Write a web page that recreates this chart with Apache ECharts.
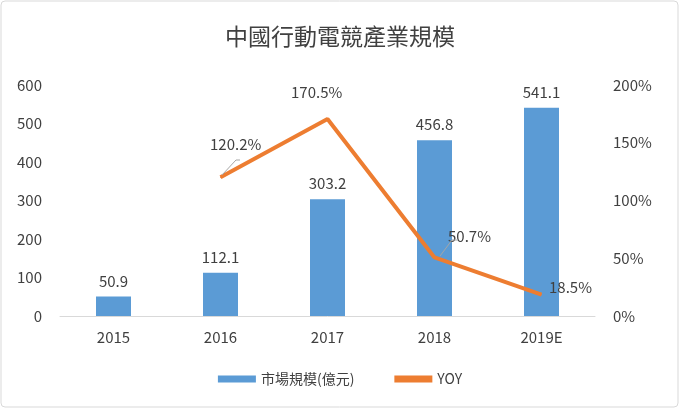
<!DOCTYPE html>
<html><head><meta charset="utf-8">
<script src="https://cdn.jsdelivr.net/npm/echarts@6/dist/echarts.min.js"></script>
<style>html,body{margin:0;padding:0;background:#fff}#c{width:680px;height:409px}</style>
</head><body><div id="c"></div>
<script>
const categories = ['2015','2016','2017','2018','2019E'];
const marketSize = [50.9,112.1,303.2,456.8,541.1];
const yoy = [null,120.2,170.5,50.7,18.5];
const chart = echarts.init(document.getElementById('c'));
const font = '"Microsoft JhengHei","Noto Sans CJK TC",sans-serif';
const lblPos = [null,
  {position:[-10,-40]},
  {position:[-36,-34]},
  {position:[14,-28]},
  {position:[8,-14]}];
chart.setOption({
  animation:false,
  graphic:[{type:'rect',shape:{x:1,y:1,width:677,height:406,r:4},style:{fill:'none',stroke:'#d9d9d9',lineWidth:1}},
    {type:'polyline',shape:{points:[[222,175],[236,160],[240,160]]},style:{stroke:'#a6a6a6',lineWidth:1,fill:'none'},z:10},
    {type:'polyline',shape:{points:[[440,256],[452,240],[458,240]]},style:{stroke:'#a6a6a6',lineWidth:1,fill:'none'},z:10}],
  title:{text:'中國行動電競產業規模',left:'center',top:20,textStyle:{fontFamily:font,fontSize:23,fontWeight:'normal',color:'#404040'}},
  grid:{left:60,right:85,top:85,bottom:93},
  legend:{bottom:18,itemGap:40,textStyle:{fontFamily:font,fontSize:14,color:'#404040'},
    data:[{name:'市場規模(億元)',icon:'rect'},{name:'YOY',icon:'rect'}],itemWidth:38,itemHeight:7},
  xAxis:{type:'category',data:categories,axisTick:{show:false},axisLine:{lineStyle:{color:'#d9d9d9'}},
    axisLabel:{fontFamily:font,fontSize:15,color:'#404040',margin:14}},
  yAxis:[{type:'value',min:0,max:600,interval:100,axisLabel:{fontFamily:font,fontSize:15,color:'#404040',margin:18},
    splitLine:{show:false},axisLine:{show:false},axisTick:{show:false}},
    {type:'value',min:0,max:200,interval:50,axisLabel:{formatter:'{value}%',fontFamily:font,fontSize:15,color:'#404040',margin:18},
    splitLine:{show:false},axisLine:{show:false},axisTick:{show:false}}],
  series:[
    {name:'市場規模(億元)',type:'bar',data:marketSize,barWidth:35,itemStyle:{color:'#5B9BD5'},
     label:{show:true,position:'top',distance:8,fontFamily:font,fontSize:15,color:'#404040'}},
    {name:'YOY',type:'line',yAxisIndex:1,data:yoy.map((v,i)=>v==null?null:{value:v,label:lblPos[i]}),
     symbol:'circle',symbolSize:1,showSymbol:true,lineStyle:{color:'#ED7D31',width:4},itemStyle:{color:'#ED7D31'},
     label:{show:true,formatter:p=>p.value+'%',fontFamily:font,fontSize:15,color:'#404040'}}
  ]
});
</script></body></html>
